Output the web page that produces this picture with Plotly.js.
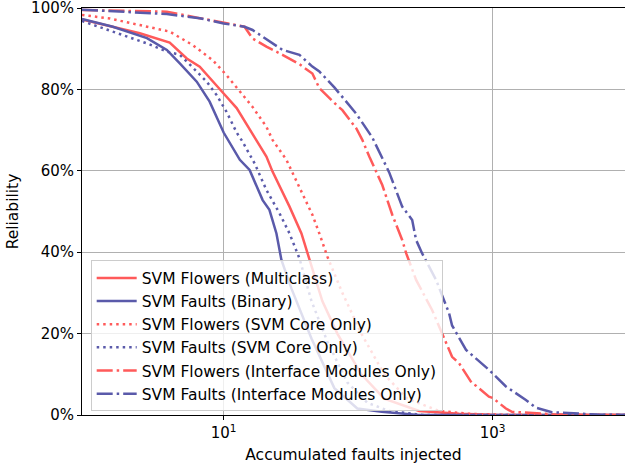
<!DOCTYPE html>
<html>
<head>
<meta charset="utf-8">
<script src="https://cdn.plot.ly/plotly-3.0.1.min.js"></script>
<style>html,body{margin:0;padding:0;background:#fff;}#chart{width:625px;height:467px;}</style>
</head>
<body>
<div id="chart"></div>
<script>
// Series names
const seriesNames = [
  "SVM Flowers (Multiclass)",
  "SVM Faults (Binary)",
  "SVM Flowers (SVM Core Only)",
  "SVM Faults (SVM Core Only)",
  "SVM Flowers (Interface Modules Only)",
  "SVM Faults (Interface Modules Only)"
];

// Accumulated faults injected (x) and reliability in % (y)
const flowersMultiX = [0.884, 2.38, 3.97, 5.32, 6.64, 8.28, 10, 12.5, 16.4, 20.8, 23.1, 30.9, 37.9, 43.5, 54.2, 70.1, 105.7, 156.4, 284.6, 563.8, 1116, 10000];
const flowersMultiY = [97.2, 93.8, 91.5, 87.6, 85.6, 81.9, 79.0, 75.4, 69.2, 63.5, 59.8, 51.2, 44.6, 38.1, 28, 20, 10, 4, 1, 0.3, 0, 0];

const faultsBinX = [0.884, 1.5, 2.69, 3.78, 4.72, 6.31, 7.87, 10, 13.2, 15.6, 19.5, 21.9, 24.7, 26.9, 31.9, 45, 66.6, 98.7, 150, 280, 10000];
const faultsBinY = [97.3, 95.4, 92.6, 89.7, 86.4, 81.9, 77.0, 69.4, 62.7, 60.2, 52.8, 50.4, 44.6, 38.1, 31.1, 18.8, 6.6, 1.6, 0.8, 0, 0];

const flowersCoreX = [0.884, 1.43, 2.38, 3.97, 5.89, 8.28, 10.5, 13.2, 16.4, 20.8, 23.1, 29.3, 36.6, 45.7, 51.5, 59.1, 76.4, 105.7, 156.4, 231.8, 400, 668, 1324, 10000];
const flowersCoreY = [98.3, 97.4, 95.8, 94.2, 90.9, 87.2, 83.5, 79.4, 75.7, 70.8, 67.6, 62.7, 56.0, 49.2, 44.6, 38.9, 30, 20, 10, 4, 1, 0.3, 0, 0];

const faultsCoreX = [0.884, 1.5, 2.01, 2.69, 3.78, 4.72, 6.31, 7.48, 8.87, 10.5, 12.5, 13.8, 17.0, 20.8, 26.0, 30.9, 36.6, 45, 59.1, 83.2, 117, 170, 300, 10000];
const faultsCoreY = [96.8, 94.2, 92.9, 91.3, 89.3, 88.5, 84.4, 81.9, 78.6, 74.5, 69.4, 67.2, 61.8, 55.3, 49.6, 44.6, 38.5, 28, 18, 8, 3, 1, 0, 0];

const flowersIfaceX = [0.884, 3.78, 6.64, 10, 14.3, 16.4, 20.8, 27.4, 36.6, 45.7, 51.5, 68.9, 76.4, 97, 107.5, 121.1, 136.5, 151.3, 179.5, 212.8, 228, 270, 355, 451, 500, 564, 703, 753, 940, 1000, 1257, 1393, 1769, 2099, 2762, 5000, 10000];
const flowersIfaceY = [99.5, 99.1, 97.5, 96.4, 95.4, 92.5, 90.5, 88.5, 86.2, 83.9, 80.3, 76.2, 74.9, 70.4, 67.6, 63.5, 59.8, 56.5, 49.2, 43.0, 39.7, 33.2, 25.8, 17.6, 14.3, 12.7, 7.8, 7.2, 4.5, 4.2, 1.6, 0.8, 0.6, 0.4, 0.2, 0, 0];

const faultsIfaceX = [0.884, 3.78, 6.64, 10, 14.3, 16.4, 27.4, 36.6, 45.7, 51.5, 66.6, 97, 127.4, 170.3, 212.8, 252.5, 270, 299.5, 380, 475, 500, 635, 940, 1257, 1769, 2099, 2762, 3882, 6000, 10000];
const faultsIfaceY = [99.6, 98.5, 97.5, 96.2, 95.4, 94.6, 89.7, 88.5, 85.6, 84.4, 80.5, 74.0, 68.2, 59.6, 51.2, 47.9, 43.0, 39.7, 33.2, 25.0, 22.0, 16.0, 11.1, 7.0, 3.7, 1.8, 0.7, 0.4, 0.1, 0];

const yTickVals = [0, 20, 40, 60, 80, 100];
const yTickText = ["0%", "20%", "40%", "60%", "80%", "100%"];
const xTickVals = [10, 1000];
const xTickText = ["10<sup>1</sup>", "10<sup>3</sup>"];

const RED = "#ff5a5a";
const BLUE = "#5a5aaa";
const DOT = "2.5px,4px";
const DASHDOT = "16px,4px,2.5px,4px";

const xs = [flowersMultiX, faultsBinX, flowersCoreX, faultsCoreX, flowersIfaceX, faultsIfaceX];
const ys = [flowersMultiY, faultsBinY, flowersCoreY, faultsCoreY, flowersIfaceY, faultsIfaceY];
const colors = [RED, BLUE, RED, BLUE, RED, BLUE];
const dashes = ["solid", "solid", DOT, DOT, DASHDOT, DASHDOT];

const traces = seriesNames.map((n, i) => ({
  type: "scatter", mode: "lines", name: n,
  x: xs[i], y: ys[i],
  line: {color: colors[i], width: 2.5, dash: dashes[i]},
  hoverinfo: "skip"
}));

const FONT = "DejaVu Sans, sans-serif";
const layout = {
  width: 625, height: 467,
  margin: {l: 82, r: 0, t: 8, b: 52},
  paper_bgcolor: "#fff", plot_bgcolor: "#fff",
  font: {family: FONT, size: 15, color: "#000"},
  showlegend: true,
  legend: {
    x: 0.016, y: 0.38, xanchor: "left", yanchor: "top",
    bgcolor: "rgba(255,255,255,0.8)", bordercolor: "#cccccc", borderwidth: 1,
    font: {family: FONT, size: 15.5, color: "#000"},
    traceorder: "normal", itemwidth: 40
  },
  xaxis: {
    type: "log", range: [-0.0534, 3.985],
    tickvals: xTickVals, ticktext: xTickText,
    tickfont: {family: FONT, size: 15},
    ticklabeloverflow: "allow",
    showgrid: true, gridcolor: "#b0b0b0", gridwidth: 1,
    showline: true, linecolor: "#000", linewidth: 1, mirror: true,
    ticks: "outside", ticklen: 4, tickcolor: "#000",
    zeroline: false,
    title: {text: "Accumulated faults injected", font: {family: FONT, size: 15.5}, standoff: 8}
  },
  yaxis: {
    range: [0, 100],
    tickvals: yTickVals, ticktext: yTickText,
    tickfont: {family: FONT, size: 15},
    ticklabeloverflow: "allow",
    showgrid: true, gridcolor: "#b0b0b0", gridwidth: 1,
    showline: true, linecolor: "#000", linewidth: 1, mirror: false,
    ticks: "outside", ticklen: 4, tickcolor: "#000",
    zeroline: false,
    title: {text: "Reliability", font: {family: FONT, size: 15.5}, standoff: 8}
  }
};

Plotly.newPlot("chart", traces, layout, {staticPlot: true, displayModeBar: false});
</script>
</body>
</html>
